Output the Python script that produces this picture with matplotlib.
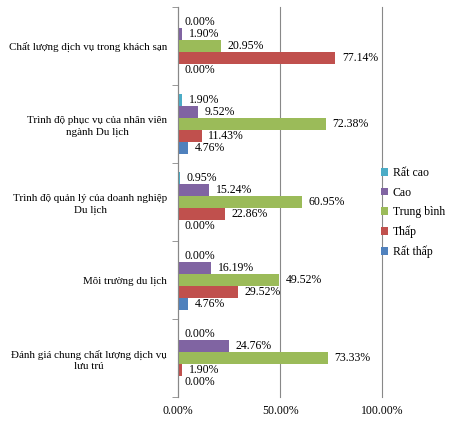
import matplotlib.pyplot as plt
import numpy as np
from matplotlib.ticker import FixedLocator, PercentFormatter

plt.rcParams['font.family'] = ['Liberation Serif', 'DejaVu Serif']

categories = [
    'Chất lượng dịch vụ trong khách sạn',
    'Trình độ phục vụ của nhân viên\nngành Du lịch',
    'Trình độ quản lý của doanh nghiệp\nDu lịch',
    'Môi trường du lịch',
    'Đánh giá chung chất lượng dịch vụ\nlưu trú',
]
series = ['Rất cao', 'Cao', 'Trung bình', 'Thấp', 'Rất thấp']
rat_cao = [0.00, 1.90, 0.95, 0.00, 0.00]
cao = [1.90, 9.52, 15.24, 16.19, 24.76]
trung_binh = [20.95, 72.38, 60.95, 49.52, 73.33]
thap = [77.14, 11.43, 22.86, 29.52, 1.90]
rat_thap = [0.00, 4.76, 0.00, 4.76, 0.00]
values = [rat_cao, cao, trung_binh, thap, rat_thap]
colors = ['#4BACC6', '#8064A2', '#9BBB59', '#C0504D', '#4F81BD']

fs = 8.5
fig = plt.figure(figsize=(4.5, 4.21), dpi=100)
ax = fig.add_axes([0.396, 0.057, 0.453, 0.926])

n = len(categories)
centers = np.arange(n)[::-1].astype(float)
bar_h = 0.155
handles = []
for i, (name, vals, col) in enumerate(zip(series, values, colors)):
    y = centers + (2 - i) * bar_h
    b = ax.barh(y, vals, height=bar_h * 0.98, color=col, label=name)
    handles.append(b)
    for yy, v in zip(y, vals):
        ax.text(v + 3.2, yy, f'{v:.2f}%', va='center', ha='left', fontsize=fs)

ax.set_xlim(0, 100)
ax.set_ylim(-0.5, n - 0.5)
ax.set_xticks([0, 50, 100])
ax.xaxis.set_major_formatter(PercentFormatter(decimals=2))
ax.tick_params(axis='x', length=0, labelsize=fs, pad=6)
ax.set_yticks(centers)
ax.set_yticklabels(categories, fontsize=7.9)
for lab in ax.get_yticklabels():
    lab.set_multialignment('center')
    lab.set_linespacing(1.35)
ax.tick_params(axis='y', which='major', length=0, pad=8)
ax.yaxis.set_minor_locator(FixedLocator(np.arange(n + 1) - 0.5))
ax.tick_params(axis='y', which='minor', length=4, color='#888888')
ax.grid(axis='x', color='#888888', linewidth=0.8)
for gl in ax.get_xgridlines():
    gl.set_clip_on(False)
ax.set_axisbelow(True)
for s in ['top', 'right', 'bottom']:
    ax.spines[s].set_visible(False)
ax.spines['left'].set_color('#888888')

fig.legend(handles=handles, labels=series, loc='upper left',
           bbox_to_anchor=(0.846, 0.603), frameon=False, fontsize=fs,
           handlelength=0.6, handleheight=0.6, handletextpad=0.4,
           labelspacing=0.64, borderaxespad=0, borderpad=0)

fig.savefig('out.png', dpi=100)
